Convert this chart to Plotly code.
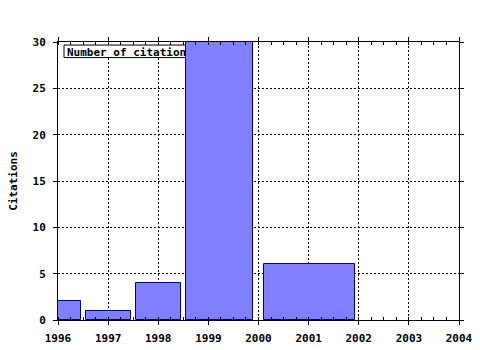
import plotly.graph_objects as go

# Data
years = [1996, 1997, 1998, 1999, 2001]
bar_left = [1995.55, 1996.55, 1997.55, 1998.55, 2000.1]
bar_right = [1996.45, 1997.45, 1998.45, 1999.9, 2001.92]
citations = [2, 1, 4, 30, 6]
x_ticks = [1996, 1997, 1998, 1999, 2000, 2001, 2002, 2003, 2004]
y_ticks = [0, 5, 10, 15, 20, 25, 30]
series_name = "Number of citations"

centers = [(a + b) / 2 for a, b in zip(bar_left, bar_right)]
widths = [b - a for a, b in zip(bar_left, bar_right)]

FONT = "DejaVu Sans Mono"
X_RANGE = [1996, 2004]
Y_RANGE = [0, 30]


def dom_x(f):
    return X_RANGE[0] + f * (X_RANGE[1] - X_RANGE[0])


def dom_y(f):
    return Y_RANGE[0] + f * (Y_RANGE[1] - Y_RANGE[0])


fig = go.Figure()
fig.add_trace(go.Bar(
    x=centers, y=citations, width=widths, name=series_name,
    marker=dict(color="#8080ff", line=dict(color="#000080", width=1)),
    showlegend=False,
))

# legend box drawn between grid and bars (bars cover it, as in the original)
fig.add_shape(
    type="rect", xref="x", yref="y",
    x0=dom_x(0.015), x1=dom_x(0.354), y0=dom_y(0.944), y1=dom_y(0.989),
    layer="between", fillcolor="white", line=dict(color="black", width=1),
    label=dict(text=series_name, textposition="middle left", padding=0,
               font=dict(family=FONT, size=11, color="black", weight="bold")),
)

axis_common = dict(
    showline=True, linecolor="black", linewidth=1, mirror="ticks",
    showgrid=True, gridcolor="black", gridwidth=1, griddash="2px,2px",
    ticks="outside", ticklen=4, tickcolor="black", tickwidth=1,
    tickfont=dict(family=FONT, size=11, color="black", weight="bold"),
    zeroline=False, automargin=False,
)

fig.update_xaxes(
    range=X_RANGE, tickvals=x_ticks, ticktext=[str(v) for v in x_ticks],
    ticklabelstandoff=4,
    minor=dict(ticks="inside", ticklen=3, tickcolor="black", dtick=0.25, showgrid=False),
    **axis_common,
)
fig.update_yaxes(
    range=Y_RANGE, tickvals=y_ticks, ticklabelstandoff=5,
    title=dict(text="Citations", font=dict(family=FONT, size=11, color="black", weight="bold"), standoff=12),
    **axis_common,
)

fig.update_layout(
    width=480, height=350,
    margin=dict(l=58, r=21, t=42, b=30),
    paper_bgcolor="white", plot_bgcolor="white",
    bargap=0,
)

fig.write_html("out.html")
